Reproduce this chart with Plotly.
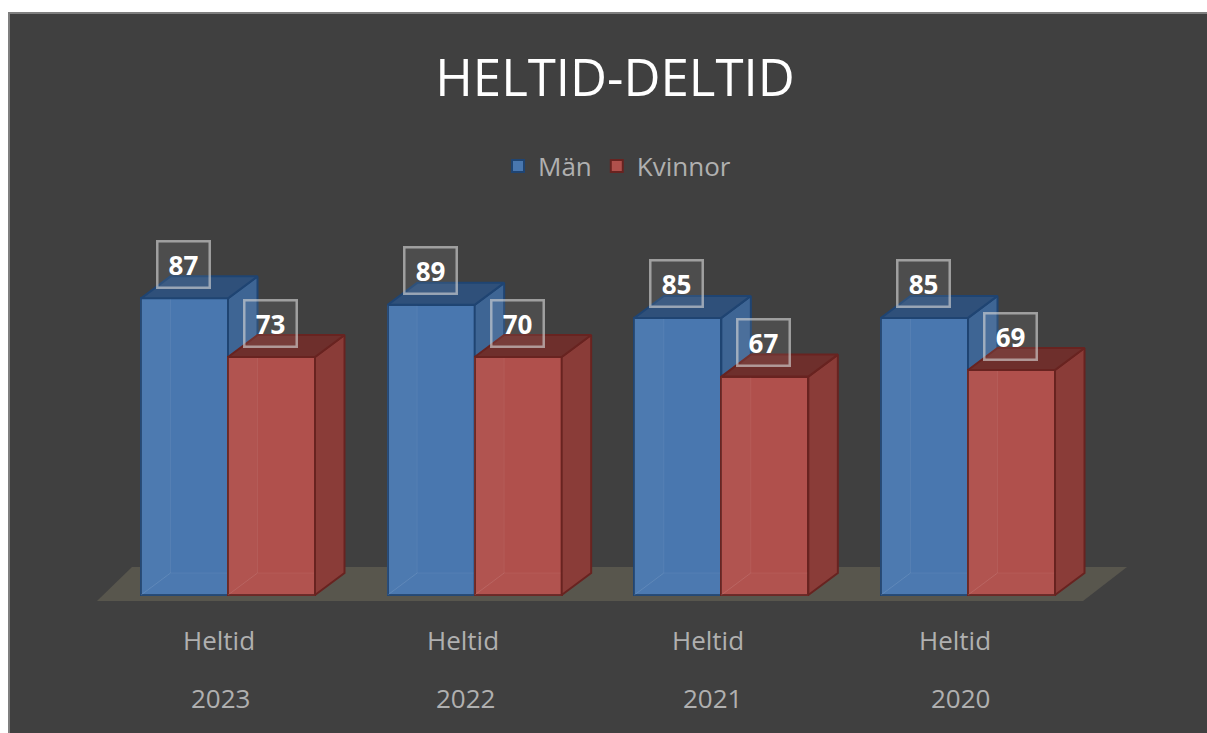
import plotly.graph_objects as go

years = ["2023", "2022", "2021", "2020"]
category = "Heltid"
series_man = "Män"
series_kvinnor = "Kvinnor"
man_heights = [91, 89, 85, 85]
kvinnor_heights = [73, 73, 67, 69]
man_labels = ["87", "89", "85", "85"]
kvinnor_labels = ["73", "70", "67", "69"]

W, H = 1207, 733
PX_X = 246.67   # pixels per category
PX_Y = 3.26     # pixels per value unit
X0_PX, Y0_PX = 228, 595
xrange_ = [-X0_PX / PX_X, (W - X0_PX) / PX_X]
yrange_ = [-(H - Y0_PX) / PX_Y, Y0_PX / PX_Y]

BAR_W = 87 / PX_X
DX = 29.5 / PX_X
DY = 22 / PX_Y
xs = list(range(len(years)))


def polys(faces):
    px, py = [], []
    for f in faces:
        px += [p[0] for p in f] + [f[0][0], None]
        py += [p[1] for p in f] + [f[0][1], None]
    return px, py


def faces_traces(heights, left_off, side, top, edge, axes):
    xa, ya = axes
    side_f, top_f, inner_f, floor_f = [], [], [], []
    for i, v in zip(xs, heights):
        l = i + left_off
        r = l + BAR_W
        side_f.append([(r, 0), (r + DX, DY), (r + DX, v + DY), (r, v)])
        top_f.append([(l, v), (l + DX, v + DY), (r + DX, v + DY), (r, v)])
        inner_f.append([(l, 0), (l + DX, DY), (l + DX, v), (l, v)])
        floor_f.append([(l, 0), (l + DX, DY), (r, DY), (r, 0)])
    out = []
    faint = "rgba(255,255,255,0.06)"
    for faces, fill, lw, lc in [
        (inner_f, "rgba(255,255,255,0.025)", 1, faint),
        (floor_f, "rgba(255,255,255,0.02)", 1, faint),
        (side_f, side, 2, edge),
        (top_f, top, 2, edge),
    ]:
        px, py = polys(faces)
        out.append(go.Scatter(x=px, y=py, mode="lines", fill="toself", fillcolor=fill,
                              line=dict(color=lc, width=lw), xaxis=xa, yaxis=ya,
                              showlegend=False, hoverinfo="skip"))
    return out


BLUE, BLUE_SIDE, BLUE_TOP, BLUE_EDGE = "#4977af", "#3e6594", "#2f507a", "#1f4472"
RED, RED_SIDE, RED_TOP, RED_EDGE = "#b0504c", "#8a3c38", "#6e2f2c", "#682320"

fig = go.Figure()
fig.add_trace(go.Bar(x=xs, y=man_heights, name=series_man, width=BAR_W, offset=-BAR_W,
                     marker=dict(color=BLUE, line=dict(color=BLUE_EDGE, width=2)),
                     xaxis="x", yaxis="y", hoverinfo="y"))
for t in faces_traces(man_heights, -BAR_W, BLUE_SIDE, BLUE_TOP, BLUE_EDGE, ("x", "y")):
    fig.add_trace(t)
fig.add_trace(go.Bar(x=xs, y=kvinnor_heights, name=series_kvinnor, width=BAR_W, offset=0,
                     marker=dict(color=RED, line=dict(color=RED_EDGE, width=2)),
                     xaxis="x2", yaxis="y2", hoverinfo="y"))
for t in faces_traces(kvinnor_heights, 0, RED_SIDE, RED_TOP, RED_EDGE, ("x2", "y2")):
    fig.add_trace(t)

annotations = []
LBL_X = -1 / PX_X
box = dict(showarrow=False, xref="x", yref="y", width=50, height=44, borderwidth=2.5, borderpad=0,
           bordercolor="rgba(215,215,215,0.62)", bgcolor="rgba(255,255,255,0.07)",
           font=dict(family="Open Sans", size=26, color="#ffffff", weight=700), yshift=34)
for i in xs:
    annotations.append(dict(x=i - BAR_W / 2 + LBL_X, y=man_heights[i], text=man_labels[i], **box))
    annotations.append(dict(x=i + BAR_W / 2 + LBL_X, y=kvinnor_heights[i], text=kvinnor_labels[i], **box))

AXIS_FONT = dict(family="Open Sans", size=26, color="#b0b0b0")
heltid_shift = [-9, -12, -13, -13]
year_shift = [-8, -9, -9, -8]
for i in xs:
    annotations.append(dict(x=i, y=1 - 640 / H, xref="x", yref="paper", text=category, xshift=heltid_shift[i],
                            showarrow=False, font=AXIS_FONT, yanchor="middle"))
    annotations.append(dict(x=i, y=1 - 698 / H, xref="x", yref="paper", text=years[i], xshift=year_shift[i],
                            showarrow=False, font=AXIS_FONT, yanchor="middle"))

floor_path = "M {a},{d} L {b},{e} L {c},{e} L {f},{d} Z".format(
    a=(97 - X0_PX) / PX_X, b=(132 - X0_PX) / PX_X, c=(1127 - X0_PX) / PX_X, f=(1083 - X0_PX) / PX_X,
    d=(Y0_PX - 601) / PX_Y, e=(Y0_PX - 567) / PX_Y)

axis_common = dict(visible=False, fixedrange=True)
fig.update_layout(
    width=W, height=H, autosize=False,
    margin=dict(l=0, r=0, t=0, b=0),
    paper_bgcolor="#ffffff", plot_bgcolor="rgba(0,0,0,0)",
    xaxis=dict(range=xrange_, **axis_common),
    yaxis=dict(range=yrange_, **axis_common),
    xaxis2=dict(range=xrange_, overlaying="x", **axis_common),
    yaxis2=dict(range=yrange_, overlaying="y", **axis_common),
    title=dict(text="HELTID-DELTID", x=615 / W, xanchor="center", y=1 - 78 / H, yanchor="middle",
               font=dict(family="Open Sans", size=51, color="#ffffff", weight=400)),
    legend=dict(orientation="h", x=617 / W, xanchor="center", y=1 - 166 / H, yanchor="middle",
                bgcolor="rgba(0,0,0,0)", font=dict(family="Open Sans", size=26, color="#b0b0b0"),
                itemwidth=30, traceorder="normal"),
    shapes=[
        dict(type="rect", xref="paper", yref="paper", x0=9 / W, x1=1.02, y0=-0.02, y1=1 - 13 / H,
             fillcolor="#404040", line=dict(color="#7f7f7f", width=2), layer="below"),
        dict(type="path", xref="x", yref="y", path=floor_path, fillcolor="#58564d", line=dict(width=0),
             layer="below"),
    ],
    annotations=annotations,
    bargap=0,
)
fig.write_html("out.html", config=dict(displayModeBar=False),
               post_script='document.body.style.margin="0";document.body.style.overflow="hidden";')
